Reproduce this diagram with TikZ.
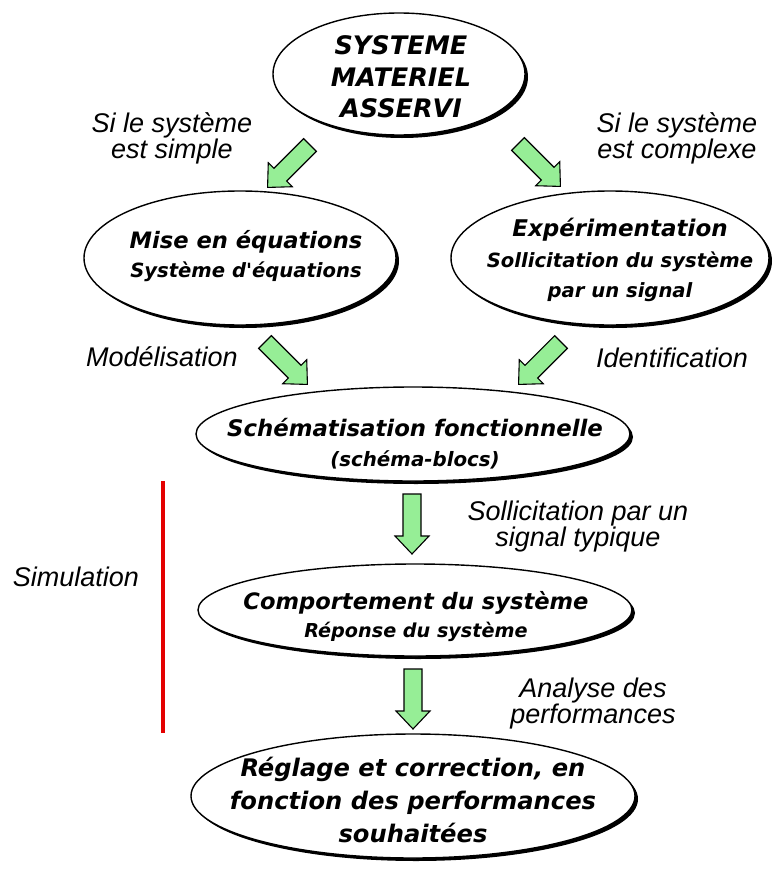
\documentclass[tikz,border=0pt]{standalone}
\usepackage{fontspec}
\setmainfont{Liberation Sans}
\newfontfamily\bubblefont{DejaVu Sans}
\usetikzlibrary{shapes.geometric,shadows}
\definecolor{arrowgreen}{RGB}{150,238,150}
\definecolor{simred}{RGB}{228,0,0}
\newcommand\bsz[1]{\fontsize{#1pt}{1.2\dimexpr#1pt\relax}\selectfont}
\newcommand\garrowat[4]{% name, x, y, angle
  \begin{scope}[shift={(#2,#3)},rotate=#4]
    \coordinate (#1) at (0,0);
    \draw[garrow] (0,-9) -- (42,-9) -- (42,-17) -- (60,0) -- (42,17) -- (42,9) -- (0,9) -- cycle;
  \end{scope}}
\begin{document}
\begin{tikzpicture}[x=1pt,y=-1pt,
  bubble/.style={ellipse, draw=black, line width=1.4pt, fill=white, inner sep=0pt,
    drop shadow={shadow xshift=3pt, shadow yshift=-3pt, opacity=1, fill=black}},
  bline/.style={inner sep=0pt, anchor=base, font=\bubblefont\bfseries\itshape\bsz{#1}},
  lbl/.style={align=center, inner sep=0pt, font=\itshape\fontsize{27pt}{26pt}\selectfont},
  garrow/.style={draw=black, line width=1.1pt, fill=arrowgreen, line join=miter}]
\useasboundingbox (0,0) rectangle (778,870);
\fill[white] (0,0) rectangle (778,870);

% ellipses
\node[bubble, minimum width=252pt, minimum height=122pt] (sys) at (399,74) {};
\node[bubble, minimum width=312pt, minimum height=134pt] (mise) at (240,258) {};
\node[bubble, minimum width=318pt, minimum height=134pt] (exp) at (610,258) {};
\node[bubble, minimum width=434pt, minimum height=94pt] (schem) at (413,434) {};
\node[bubble, minimum width=434pt, minimum height=92pt] (comp) at (415,610) {};
\node[bubble, minimum width=444pt, minimum height=124pt] (regl) at (413,796) {};

% texts in ellipses
\node[bline=25.5] (sys1) at (401,54) {SYSTEME};
\node[bline=25.5] (sys2) at (401,86) {MATERIEL};
\node[bline=25.5] (sys3) at (401,117) {ASSERVI};
\node[bline=22.6] (mise1) at (246,248) {Mise en équations};
\node[bline=19.6] (mise2) at (246,277) {Système d'équations};
\node[bline=23] (exp1) at (620,236) {Expérimentation};
\node[bline=19.6] (exp2) at (620,267) {Sollicitation du système};
\node[bline=19.6] (exp3) at (620,297) {par un signal};
\node[bline=22.8] (schem1) at (415,436) {Schématisation fonctionnelle};
\node[bline=19.8] (schem2) at (415,466) {(schéma-blocs)};
\node[bline=22.6] (comp1) at (416,609) {Comportement du système};
\node[bline=19.2] (comp2) at (416,637) {Réponse du système};
\node[bline=24.2] (regl1) at (413,776) {Réglage et correction, en};
\node[bline=24.2] (regl2) at (413,809) {fonction des performances};
\node[bline=24.2] (regl3) at (413,842) {souhaitées};

% labels
\node[lbl] (lsimple) at (172,138) {Si le système\\est simple};
\node[lbl] (lcomplexe) at (677,138) {Si le système\\est complexe};
\node[lbl] (lmodel) at (162,357) {Modélisation};
\node[lbl] (lident) at (672,358) {Identification};
\node[lbl] (lsollic) at (578,527) {Sollicitation par un\\signal typique};
\node[lbl] (lsimul) at (76,577) {Simulation};
\node[lbl] (lanalyse) at (593,704) {Analyse des\\performances};

% red bar
\coordinate (rtop) at (163,481);
\coordinate (rbot) at (163,733);
\draw[simred, line width=3.5pt] (rtop) -- (rbot);

% green block arrows
\garrowat{a1}{310}{145}{-135}
\garrowat{a2}{518}{144}{-45}
\garrowat{a3}{265}{342}{-45}
\garrowat{a4}{561}{342}{-135}
\garrowat{a5}{412}{494}{-90}
\garrowat{a6}{413}{669}{-90}
\end{tikzpicture}
\end{document}
